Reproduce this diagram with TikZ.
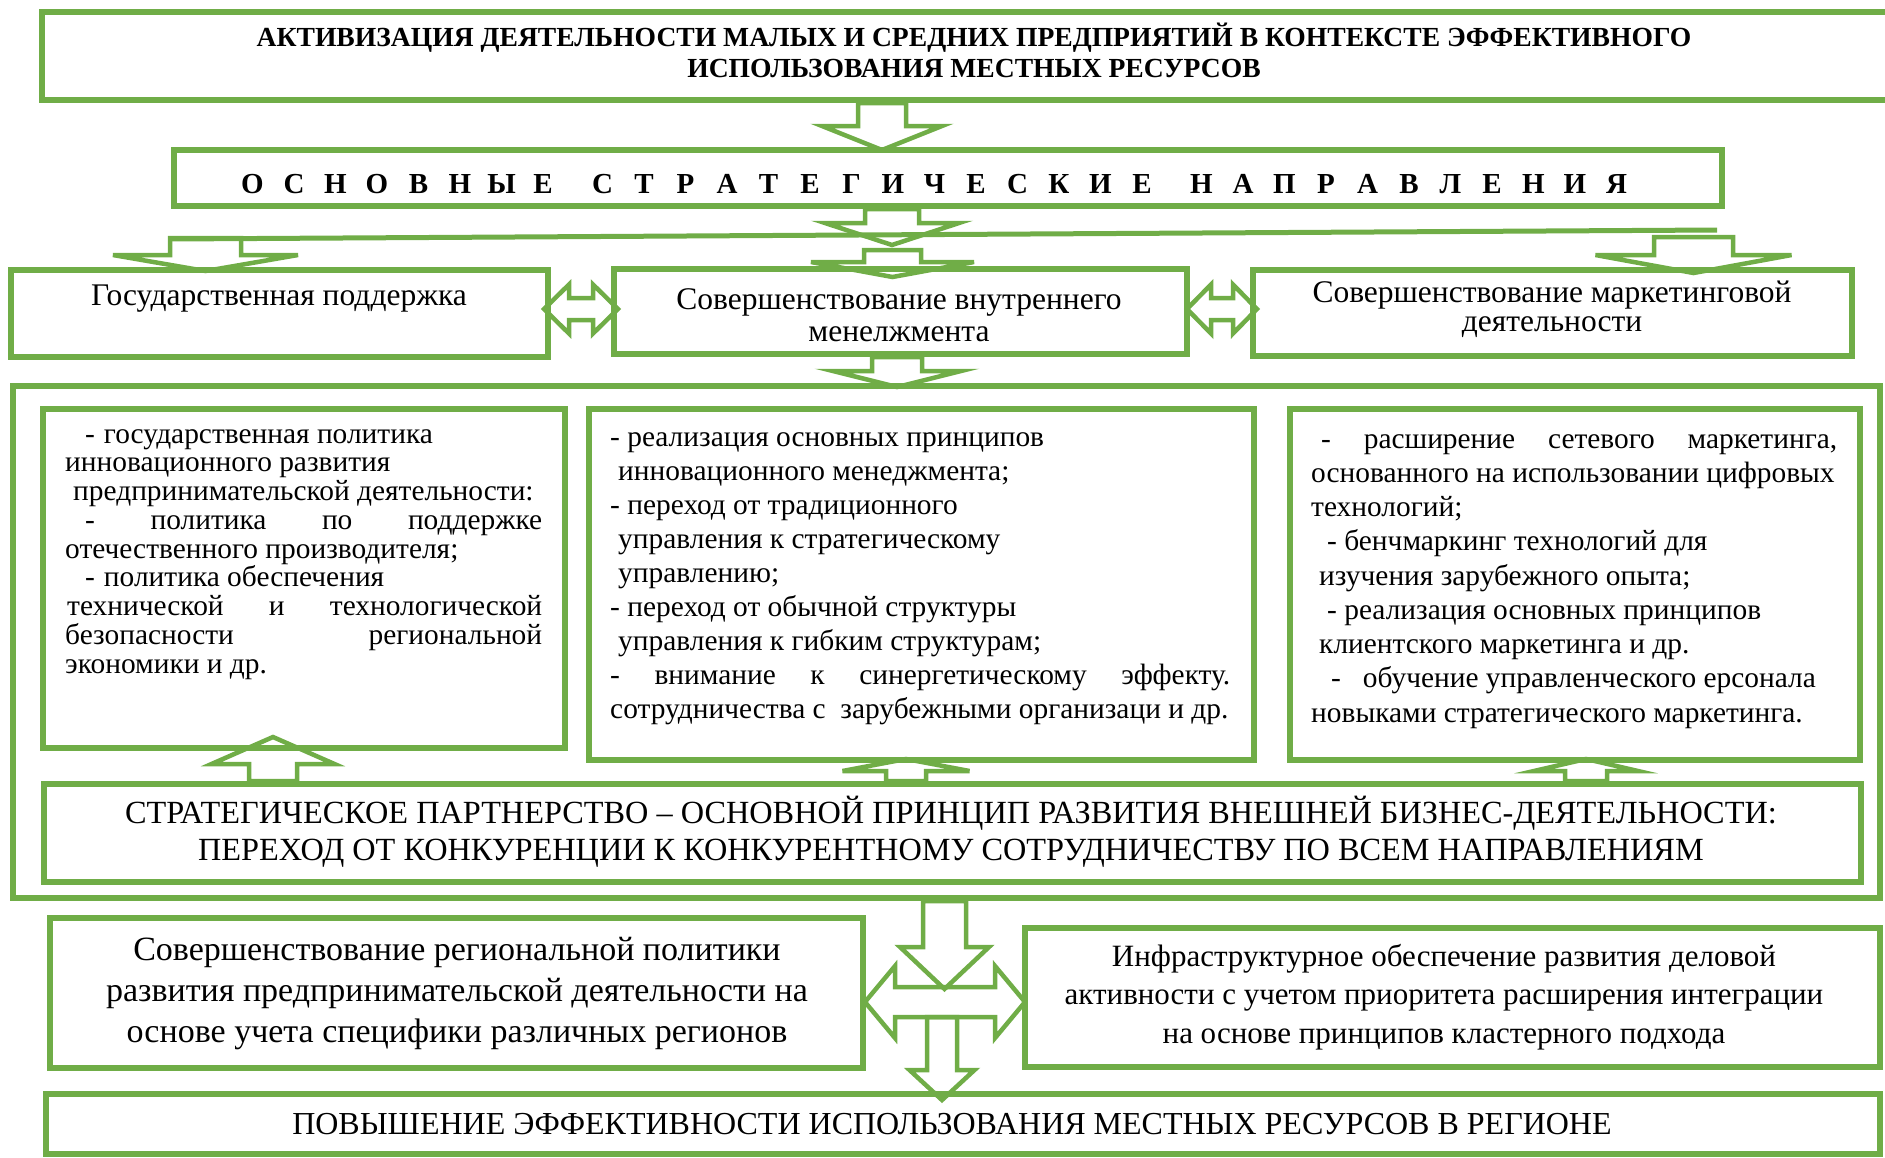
\documentclass[tikz,border=0pt]{standalone}
\usepackage{fontspec}
\setmainfont{Liberation Serif}
\usetikzlibrary{calc}
\definecolor{boxgreen}{HTML}{70AD47}
\tikzset{ box/.style = { draw       = boxgreen
                       , line width = 6pt
                       , fill       = white
                       , inner sep  = 0pt
                       },
          bar/.style = { draw       = boxgreen
                       , line width = 4.5pt
                       , line join  = miter
                       },
          fork/.style = { draw       = boxgreen
                        , line width = 5pt
                        },
          txt/.style = { inner sep = 0pt
                       , align     = center
                       , anchor    = base
                       },
          col/.style = { inner sep = 0pt
                       , align     = left
                       , anchor    = base west
                       , font      = \fontsize{29.4}{28.75}\selectfont
                       }
        }
\newcommand\fs[2]{\fontsize{#1}{#2}\selectfont}
\newcommand\jl[2]{\makebox[#1][s]{#2}}
\newcommand\spaced[1]{\foreach \c in {#1}{\makebox[41.5pt]{\c}}}
% block arrows: tail point, length, shaft half width, head half width, head length
\newcommand\downbar[5]{\draw[bar, shift={#1}] (-#3,0) -- (-#3,#2-#5) -- (-#4,#2-#5) -- (0,#2)
  -- (#4,#2-#5) -- (#3,#2-#5) -- (#3,0) -- cycle;}
\newcommand\upbar[5]{\draw[bar, shift={#1}] (-#3,0) -- (-#3,-#2+#5) -- (-#4,-#2+#5) -- (0,-#2)
  -- (#4,-#2+#5) -- (#3,-#2+#5) -- (#3,0) -- cycle;}
\newcommand\twinbar[5]{\draw[bar, shift={#1}] (0,0) -- (#5,-#4) -- (#5,-#3) -- (#2-#5,-#3)
  -- (#2-#5,-#4) -- (#2,0) -- (#2-#5,#4) -- (#2-#5,#3) -- (#5,#3) -- (#5,#4) -- cycle;}

\begin{document}
\begin{tikzpicture}[x=1pt, y=-1pt]
\useasboundingbox (0,0) rectangle (1885,1157);

% boxes
\node[box, minimum width=1846pt, minimum height=88pt]  (ttl)   at (965,56)     {};
\node[box, minimum width=1548pt, minimum height=56pt]  (dir)   at (948,178)    {};
\node[box, minimum width=537pt,  minimum height=87pt]  (gov)   at (279.5,313.5) {};
\node[box, minimum width=573pt,  minimum height=85pt]  (mgmt)  at (900.5,311.5) {};
\node[box, minimum width=599pt,  minimum height=86pt]  (mkt)   at (1552.5,313) {};
\node[box, minimum width=1867pt, minimum height=512pt] (outer) at (946.5,642)  {};
\node[box, minimum width=522pt,  minimum height=339pt] (cgov)  at (304,578.5)  {};
\node[box, minimum width=665pt,  minimum height=351pt] (cmgmt) at (921.5,584.5) {};
\node[box, minimum width=570pt,  minimum height=351pt] (cmkt)  at (1575,584.5) {};
\node[box, minimum width=1817pt, minimum height=98pt]  (part)  at (952.5,833)  {};
\node[box, minimum width=813pt,  minimum height=150pt] (reg)   at (456.5,993)  {};
\node[box, minimum width=855pt,  minimum height=139pt] (infra) at (1452.5,997.5) {};
\node[box, minimum width=1834pt, minimum height=60pt]  (fin)   at (963,1124)   {};

% texts (base = last line)
\node[txt, font=\bfseries\fs{27.6}{31}] (ttltxt) at (974,77)
  {АКТИВИЗАЦИЯ ДЕЯТЕЛЬНОСТИ МАЛЫХ И СРЕДНИХ ПРЕДПРИЯТИЙ В КОНТЕКСТЕ ЭФФЕКТИВНОГО\\
   ИСПОЛЬЗОВАНИЯ МЕСТНЫХ РЕСУРСОВ};
\node[txt, font=\bfseries\fs{29}{32}] (dirtxt) at (934.5,193)
  {\spaced{О,С,Н,О,В,Н,Ы,Е}\hspace{18pt}\spaced{С,Т,Р,А,Т,Е,Г,И,Ч,Е,С,К,И,Е}\hspace{18pt}\spaced{Н,А,П,Р,А,В,Л,Е,Н,И,Я}};
\node[txt, font=\fs{31.5}{32}] (govtxt)  at (279,305)  {Государственная поддержка};
\node[txt, font=\fs{31.5}{32}] (mgmttxt) at (899,341)  {Совершенствование внутреннего\\менелжмента};
\node[txt, font=\fs{31.5}{29}] (mkttxt)  at (1552,331) {Совершенствование маркетинговой\\деятельности};

\node[col] (cgovtxt) at (65,673)
  {\hspace*{20pt}-\hspace{9pt}государственная политика\\
   инновационного развития\\
   \hspace*{8pt}предпринимательской деятельности:\\
   \hspace*{20pt}\jl{457pt}{- политика по поддержке}\\
   отечественного производителя;\\
   \hspace*{20pt}-\hspace{9pt}политика обеспечения\\
   \hspace*{2pt}\jl{475pt}{технической и технологической}\\
   \jl{477pt}{безопасности региональной}\\
   экономики и др.};
\node[col, font=\fs{29.4}{33.9}] (cmgmttxt) at (610,718)
  {- реализация основных принципов\\
   \hspace*{8pt}инновационного менеджмента;\\
   - переход от традиционного\\
   \hspace*{8pt}управления к стратегическому\\
   \hspace*{8pt}управлению;\\
   - переход от обычной структуры\\
   \hspace*{8pt}управления к гибким структурам;\\
   \jl{620pt}{- внимание к синергетическому эффекту.}\\
   сотрудничества с\ \ зарубежными организаци и др.};
\node[col, font=\fs{29.4}{34.25}] (cmkttxt) at (1311,722)
  {\hspace*{10pt}\jl{516pt}{- расширение сетевого маркетинга,}\\
   основанного на использовании цифровых\\
   технологий;\\
   \hspace*{16pt}- бенчмаркинг технологий для\\
   \hspace*{8pt}изучения зарубежного опыта;\\
   \hspace*{16pt}- реализация основных принципов\\
   \hspace*{8pt}клиентского маркетинга и др.\\
   \hspace*{20pt}-\hspace{22pt}обучение управленческого ерсонала\\
   новыками стратегического маркетинга.};

\node[txt, font=\fs{32.3}{37}] (parttxt) at (951,860)
  {СТРАТЕГИЧЕСКОЕ ПАРТНЕРСТВО – ОСНОВНОЙ ПРИНЦИП РАЗВИТИЯ ВНЕШНЕЙ БИЗНЕС-ДЕЯТЕЛЬНОСТИ:\\
   ПЕРЕХОД ОТ КОНКУРЕНЦИИ К КОНКУРЕНТНОМУ СОТРУДНИЧЕСТВУ ПО ВСЕМ НАПРАВЛЕНИЯМ};
\node[txt, font=\fs{34}{41}] (regtxt) at (457,1042)
  {Совершенствование региональной политики\\
   развития предпринимательской деятельности на\\
   основе учета специфики различных регионов};
\node[txt, font=\fs{31}{38.5}] (infratxt) at (1444,1043)
  {Инфраструктурное обеспечение развития деловой\\
   активности с учетом приоритета расширения интеграции\\
   на основе принципов кластерного подхода};
\node[txt, font=\fs{32}{35}] (fintxt) at (952,1134)
  {ПОВЫШЕНИЕ ЭФФЕКТИВНОСТИ ИСПОЛЬЗОВАНИЯ МЕСТНЫХ РЕСУРСОВ В РЕГИОНЕ};

% arrows
\downbar{(882,0 |- ttl.south)}{47}{24}{60}{24}
\downbar{(892,0 |- dir.south)}{36}{27}{67}{22}
\draw[fork] (170,239) -- (1717,230);
\downbar{(205.5,238)}{33}{35.5}{92.5}{16}
\downbar{(1693.5,237)}{36}{39.5}{98}{18}
\downbar{(892.5,250)}{27}{28.5}{81.5}{15}
\downbar{(897,0 |- mgmt.south)}{30}{25}{64}{16}
\twinbar{(544,309)}{74}{11}{24.5}{25}
\twinbar{(1187,309)}{70}{11}{24.5}{24}
\upbar{(273,0 |- part.north)}{44}{24}{61.5}{27}
\upbar{(906,0 |- part.north)}{22}{20}{63.5}{12}
\upbar{(1586,0 |- part.north)}{22}{21}{52}{12}
\downbar{(944.5,0 |- outer.south)}{88}{21.5}{44.5}{42}
\twinbar{(865,1002)}{160}{15}{36}{30}
\downbar{(942,1017)}{83}{15}{32.5}{30}
\end{tikzpicture}
\end{document}
